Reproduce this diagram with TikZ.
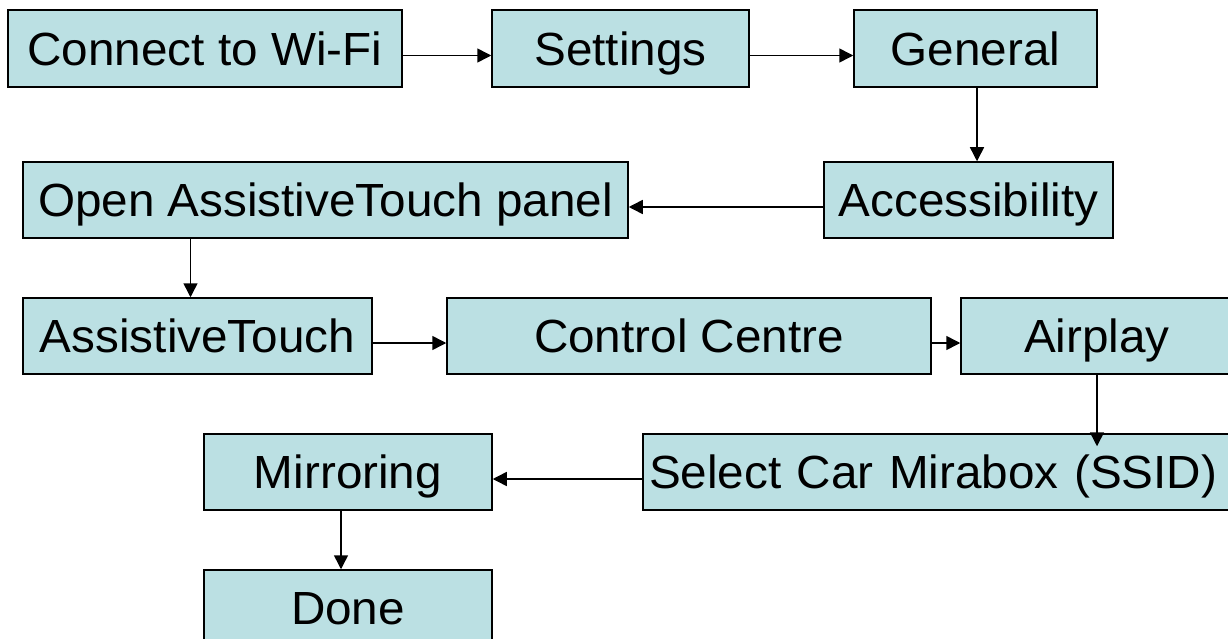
\documentclass[tikz,border=0pt]{standalone}
\usepackage{fontspec}
\setmainfont{Liberation Sans}[FakeStretch=1.025]
\usetikzlibrary{arrows.meta}
\definecolor{stepfill}{HTML}{BBE0E3}
\begin{document}
\begin{tikzpicture}[x=1pt,y=-1pt,
  stepbox/.style={draw=black,line width=1.5pt,fill=stepfill,inner sep=0pt,
    minimum height=76pt,text height=33.3pt,text depth=0pt,
    font=\fontsize{46.5}{56}\selectfont},
  flow/.style={line width=1.5pt,-{Triangle[length=14pt,width=14pt]}}]
\pgfmathsetmacro{\kdy}{7}
\pgfmathsetmacro{\kdx}{7}
\useasboundingbox (0,0) rectangle (1228,639);
\clip (0,0) rectangle (1228,639);
\node[stepbox,minimum width=394pt,minimum height=77pt] (wifi) at (205,48.5) {Connect to Wi-Fi};
\node[stepbox,minimum width=257pt,minimum height=77pt] (settings) at (620.5,48.5) {Settings};
\node[stepbox,minimum width=243pt,minimum height=77pt] (general) at (975.5,48.5) {General};
\node[stepbox,minimum width=289pt] (access) at (968.5,200) {Accessibility};
\node[stepbox,minimum width=605pt] (open) at (325.5,200) {Open AssistiveTouch panel};
\node[stepbox,minimum width=349pt] (atouch) at (197.5,336) {AssistiveTouch};
\node[stepbox,minimum width=484pt] (control) at (689,336) {Control Centre};
\node[stepbox,minimum width=272pt] (airplay) at (1097,336) {Airplay};
\node[stepbox,text width=580pt,inner xsep=6pt,align=left] (select) at (939,472) {Select Car Mirabox (SSID)};
\node[stepbox,minimum width=288pt] (mirror) at (348,472) {Mirroring};
\node[stepbox,minimum width=288pt] (done) at (348,608) {Done};
\draw[flow] ([yshift=-\kdy pt]wifi.east) -- ([yshift=-\kdy pt]settings.west);
\draw[flow] ([yshift=-\kdy pt]settings.east) -- ([yshift=-\kdy pt]general.west);
\draw[flow] ([xshift=1.5pt]general.south) -- ([xshift=1.5pt]general.south |- access.north);
\draw[flow] ([yshift=-\kdy pt]access.west) -- ([yshift=-\kdy pt]open.east);
\draw[flow] ([xshift=-\kdx pt]atouch.north |- open.south) -- ([xshift=-\kdx pt]atouch.north);
\draw[flow] ([yshift=-\kdy pt]atouch.east) -- ([yshift=-\kdy pt]control.west);
\draw[flow] ([yshift=-\kdy pt]control.east) -- ([yshift=-\kdy pt]airplay.west);
\draw[flow,shorten >=-13pt] (airplay.south) -- (airplay.south |- select.north);
\draw[flow] ([yshift=-\kdy pt]select.west) -- ([yshift=-\kdy pt]mirror.east);
\draw[flow] ([xshift=-\kdx pt]mirror.south) -- ([xshift=-\kdx pt]done.north);
\end{tikzpicture}
\end{document}
